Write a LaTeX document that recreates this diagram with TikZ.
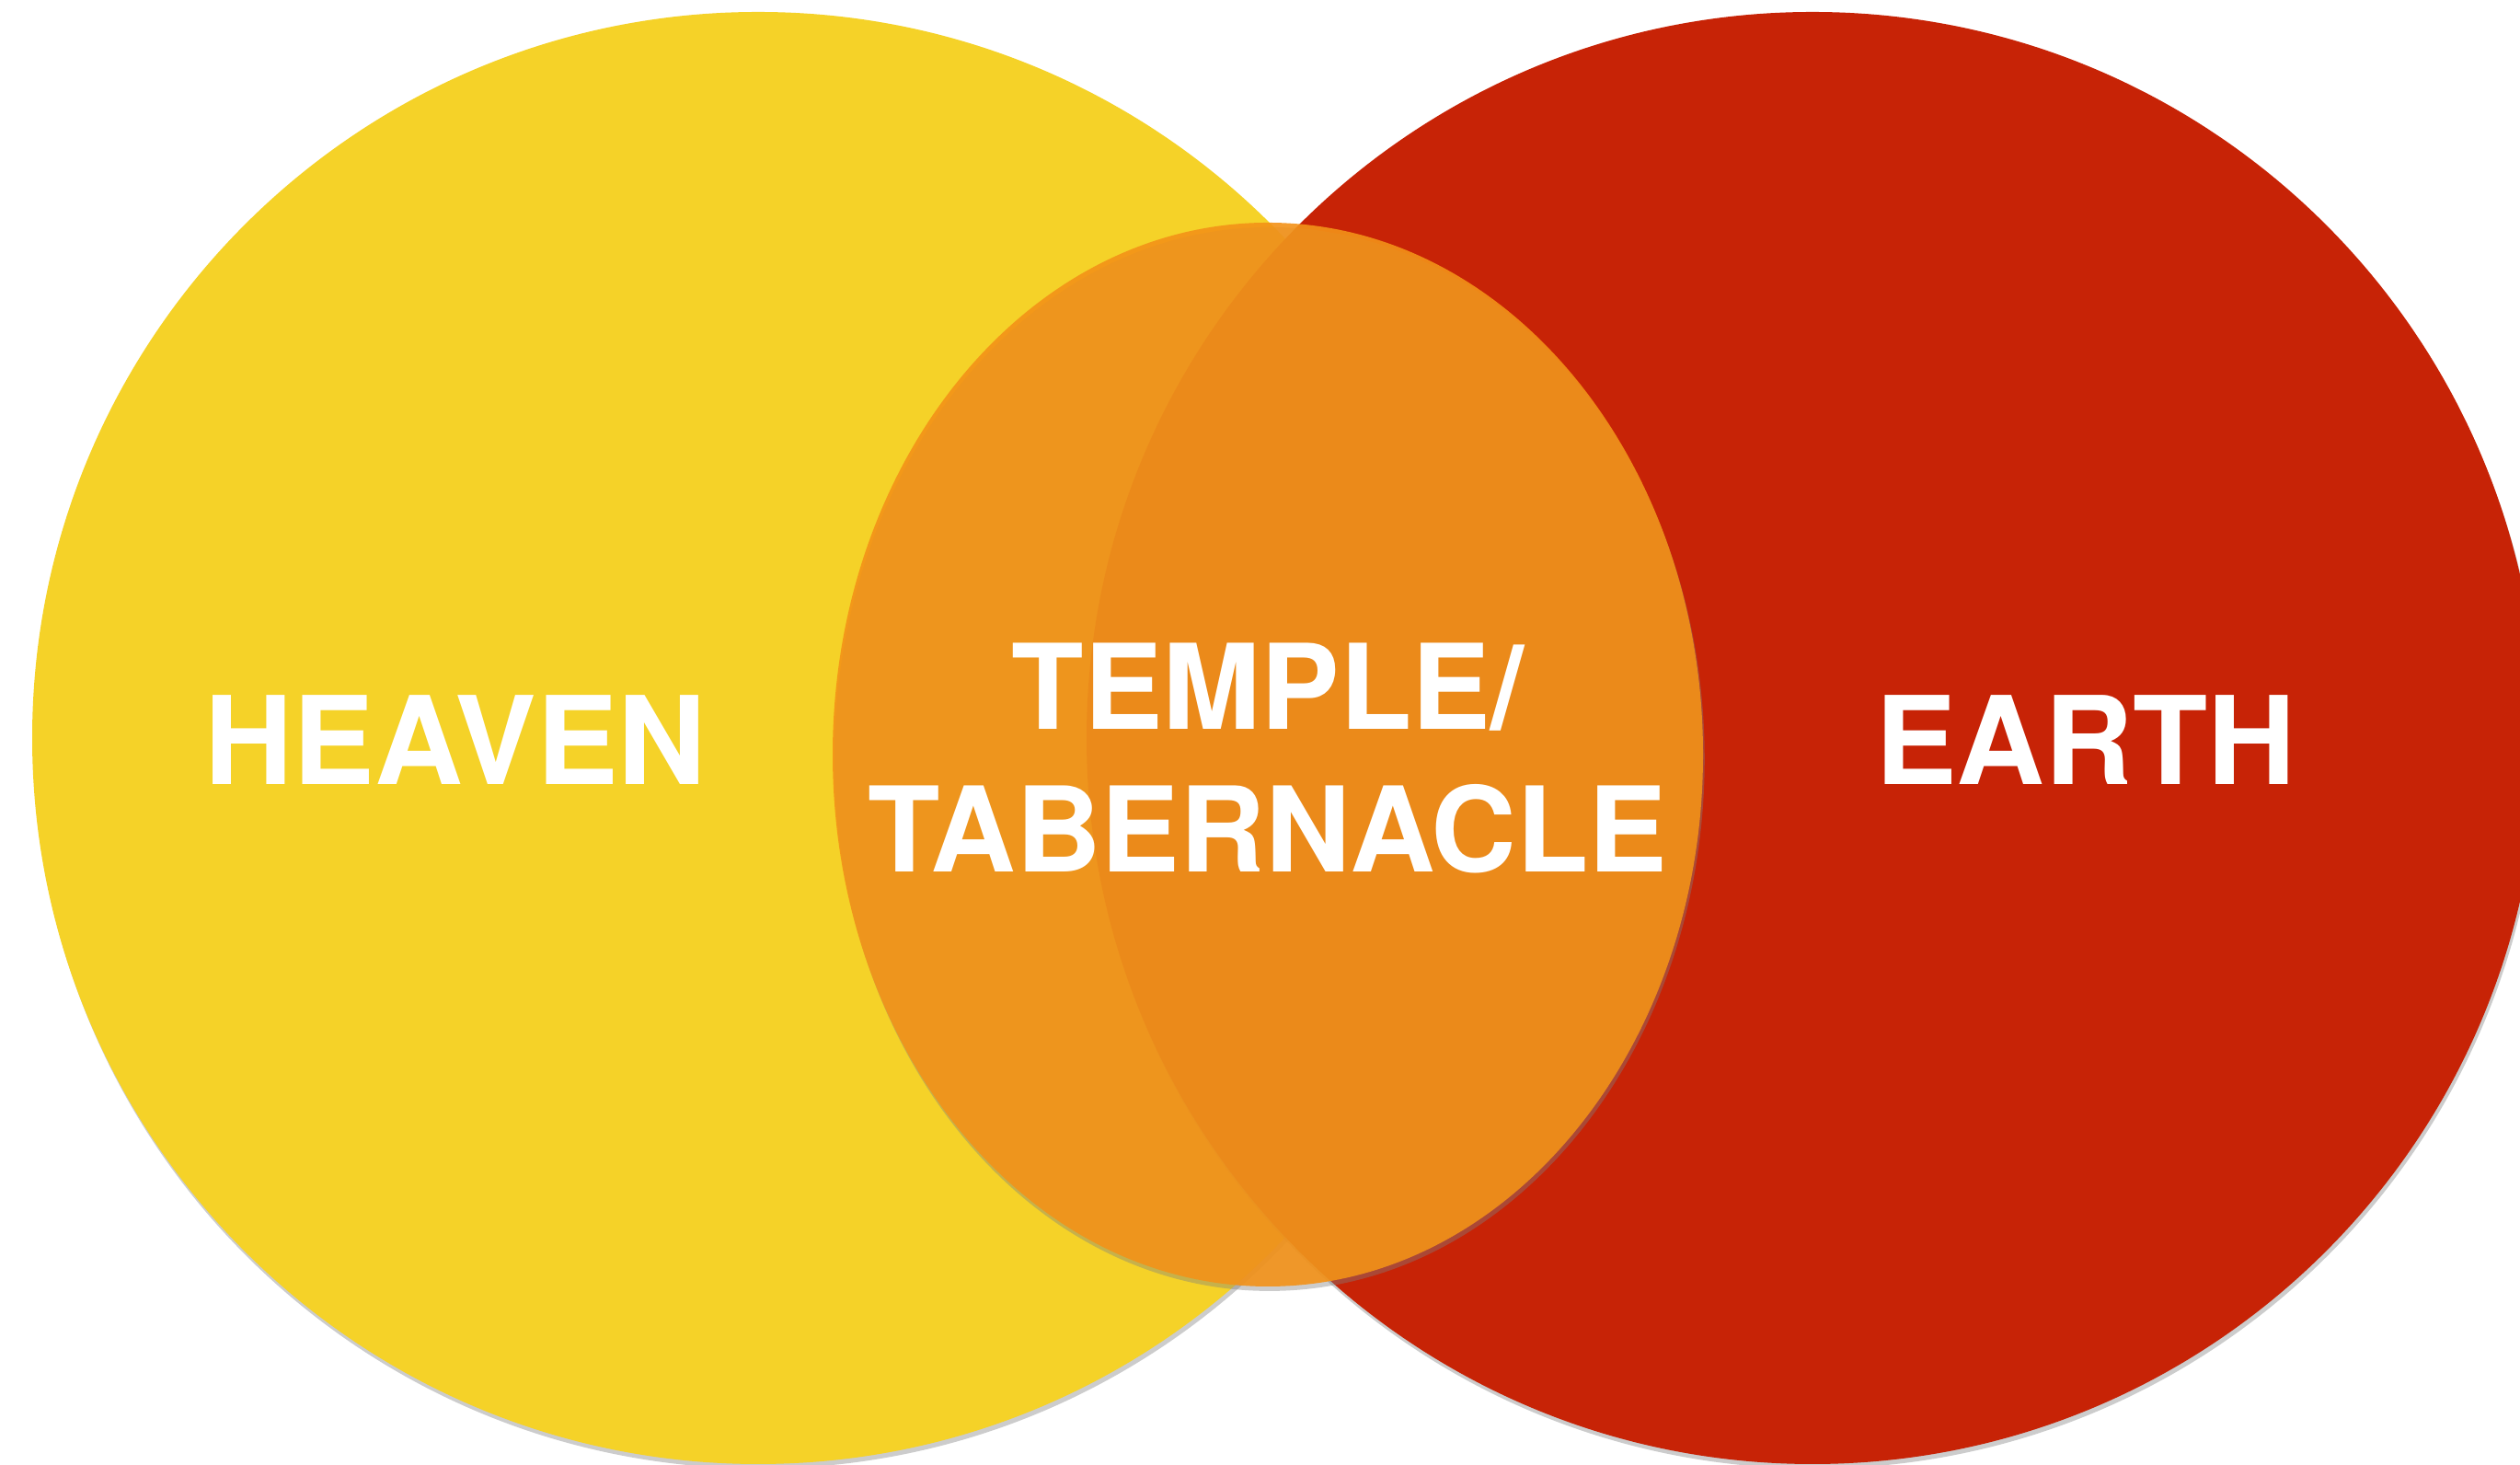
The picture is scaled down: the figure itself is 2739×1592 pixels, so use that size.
\documentclass[tikz,border=0pt]{standalone}
\usepackage{fontspec}
\setmainfont{TeX Gyre Heros}
\usepackage{tikz}
\usetikzlibrary{shadows,positioning}
\definecolor{heavenyellow}{RGB}{245,210,40}
\definecolor{earthred}{RGB}{199,35,6}
\definecolor{templeorange}{RGB}{243,146,24}
\begin{document}
\begin{tikzpicture}[x=0.01cm,y=0.01cm,
    disc/.style={drop shadow={shadow xshift=0.5pt,shadow yshift=-1.4pt,opacity=0.4}},
    word/.style={text=white,font=\fontsize{36.5}{44}\selectfont\bfseries,align=center},
    bigword/.style={word,font=\fontsize{37.8}{44}\selectfont\bfseries}]
  \useasboundingbox (0,0) rectangle (2739,1592);
  \clip (0,0) rectangle (2739,1592);
  \fill[white] (0,0) rectangle (2739,1592);
  \fill[heavenyellow,disc] (824,790) circle [radius=789];
  \fill[earthred,disc] (1970,790) circle [radius=789];
  \fill[templeorange,fill opacity=0.9,disc] (1378,772) ellipse [x radius=473, y radius=578];
  \node[bigword] (heaven) at (495,788) {HEAVEN};
  \node[bigword] (earth) at (2267,788) {EARTH};
  \node[word] (temple) at (1378,768) {TEMPLE/\\TABERNACLE};
\end{tikzpicture}
\end{document}
